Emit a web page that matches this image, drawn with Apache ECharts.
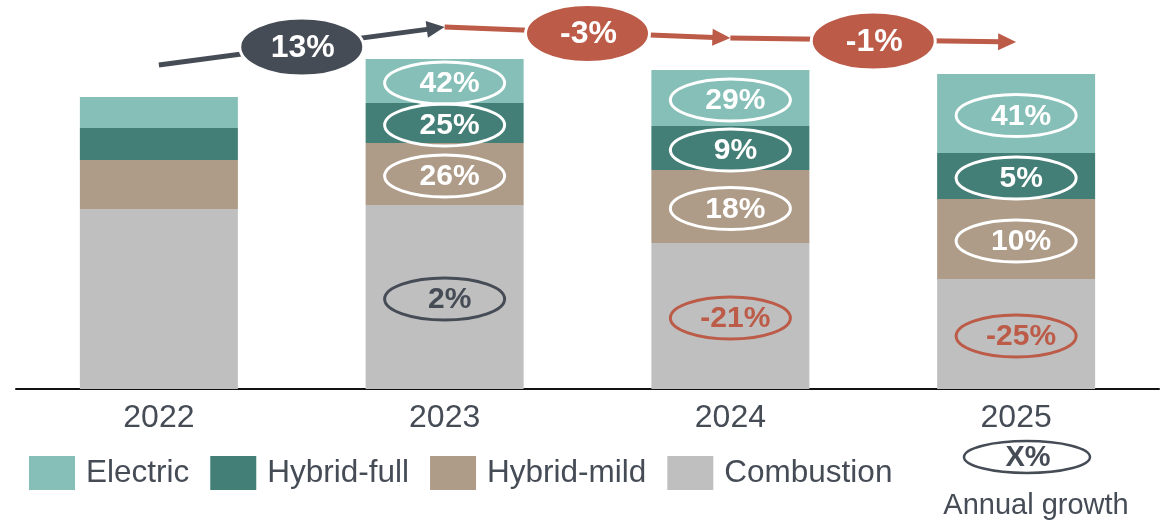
<!DOCTYPE html>
<html>
<head>
<meta charset="utf-8">
<script src="https://cdn.jsdelivr.net/npm/echarts@6/dist/echarts.min.js"></script>
<style>
  html, body { margin: 0; padding: 0; background: #fff; }
  #chart { width: 1170px; height: 524px; }
</style>
</head>
<body>
<div id="chart"></div>
<script>
// data (bar heights in arbitrary units)
const years = ['2022', '2023', '2024', '2025'];
const combustion = [180, 184, 146, 110];
const hybridMild = [49, 62, 73, 80];
const hybridFull = [32, 40, 44, 46];
const electric = [31, 44, 56, 79];

// annual growth labels per segment (first year has none)
const combustionGrowth = ['', '2%', '-21%', '-25%'];
const hybridMildGrowth = ['', '26%', '18%', '10%'];
const hybridFullGrowth = ['', '25%', '9%', '5%'];
const electricGrowth = ['', '42%', '29%', '41%'];
const totalGrowth = ['13%', '-3%', '-1%'];

const FONT = '"Liberation Sans", Arial, sans-serif';
const DARK = '#464c56';
const RED = '#bc5b48';
const TXT = '#454c56';

// segments bottom -> top
const stack = [
  { name: 'Combustion', values: combustion, growth: combustionGrowth, color: '#bfbfbf', coloured: true },
  { name: 'Hybrid-mild', values: hybridMild, growth: hybridMildGrowth, color: '#ae9c89' },
  { name: 'Hybrid-full', values: hybridFull, growth: hybridFullGrowth, color: '#437f77' },
  { name: 'Electric', values: electric, growth: electricGrowth, color: '#85bfb7' }
];

// badge items: [yearIndex, segment bottom, segment top]
const badgeData = [];
const badgeInfo = [];
const totals = years.map(() => 0);
stack.forEach(s => {
  s.values.forEach((v, i) => {
    const lo = totals[i];
    totals[i] += v;
    if (s.growth[i]) {
      badgeData.push([i, lo, lo + v]);
      const neg = s.growth[i].startsWith('-');
      badgeInfo.push({ label: s.growth[i], color: s.coloured ? (neg ? RED : DARK) : '#ffffff' });
    }
  });
});

// trend arrows between totals: [fromIndex, fromTotal, toTotal]
const trendData = totalGrowth.map((g, i) => [i, totals[i], totals[i + 1]]);

const chart = echarts.init(document.getElementById('chart'));

const barSeries = stack.map(s => ({
  name: s.name,
  type: 'bar',
  stack: 'total',
  barWidth: 158,
  itemStyle: { color: s.color },
  data: s.values,
  silent: true
}));

chart.setOption({
  animation: false,
  textStyle: { fontFamily: FONT },
  grid: { left: 16, right: 11, top: 0, bottom: 135 },
  legend: {
    data: ['Electric', 'Hybrid-full', 'Hybrid-mild', 'Combustion'],
    left: 29,
    top: 456,
    padding: 0,
    icon: 'rect',
    itemWidth: 46,
    itemHeight: 34,
    itemGap: 21,
    selectedMode: false,
    textStyle: { fontSize: 31.5, color: TXT, fontFamily: FONT, padding: [0, 0, 0, 6] }
  },
  xAxis: {
    type: 'category',
    data: years,
    axisLine: { lineStyle: { color: '#111', width: 2 } },
    axisTick: { show: false },
    axisLabel: { fontSize: 32, color: TXT, margin: 13, fontFamily: FONT }
  },
  yAxis: { type: 'value', min: 0, max: 389, show: false, splitLine: { show: false } },
  series: barSeries.concat([
    {
      type: 'custom',
      name: 'badges',
      z: 5,
      silent: true,
      clip: false,
      data: badgeData,
      renderItem(params, api) {
        const c = api.coord([api.value(0), (api.value(1) + api.value(2)) / 2]);
        const info = badgeInfo[params.dataIndex];
        return {
          type: 'group',
          children: [
            { type: 'ellipse', shape: { cx: c[0], cy: c[1] + 2, rx: 60, ry: 21 },
              style: { fill: 'none', stroke: info.color, lineWidth: 3 } },
            { type: 'text', style: { text: info.label, x: c[0] + 5, y: c[1] + 3, align: 'center', verticalAlign: 'middle',
              font: 'bold 30px ' + FONT, fill: info.color } }
          ]
        };
      }
    },
    {
      type: 'custom',
      name: 'trend',
      z: 6,
      silent: true,
      clip: false,
      data: trendData,
      renderItem(params, api) {
        const i = api.value(0);
        const off = 32;
        const p0 = api.coord([i, api.value(1)]);
        const p1 = api.coord([i + 1, api.value(2)]);
        p0[1] -= off; p1[1] -= off;
        const label = totalGrowth[params.dataIndex];
        const col = label.startsWith('-') ? RED : DARK;
        const dx = p1[0] - p0[0], dy = p1[1] - p0[1];
        const len = Math.sqrt(dx * dx + dy * dy);
        const ux = dx / len, uy = dy / len;
        const headL = 18, headW = 8.5;
        const bx = p1[0] - ux * headL, by = p1[1] - uy * headL;
        const mx = (p0[0] + p1[0]) / 2, my = (p0[1] + p1[1]) / 2;
        return {
          type: 'group',
          children: [
            { type: 'line', shape: { x1: p0[0], y1: p0[1], x2: bx + ux * 2, y2: by + uy * 2 },
              style: { stroke: col, lineWidth: 5 } },
            { type: 'polygon', shape: { points: [[p1[0], p1[1]], [bx - uy * headW, by + ux * headW], [bx + uy * headW, by - ux * headW]] },
              style: { fill: col } },
            { type: 'ellipse', shape: { cx: mx, cy: my + 1, rx: 62, ry: 29 },
              style: { fill: col, stroke: '#fff', lineWidth: 3 } },
            { type: 'text', style: { text: label, x: mx + 1, y: my + 2, align: 'center', verticalAlign: 'middle',
              font: 'bold 32px ' + FONT, fill: '#fff' } }
          ]
        };
      }
    }
  ]),
  graphic: [
    { type: 'ellipse', shape: { cx: 1027, cy: 457, rx: 63, ry: 16 }, style: { fill: 'none', stroke: DARK, lineWidth: 2.5 } },
    { type: 'text', style: { text: 'X%', x: 1028, y: 458, align: 'center', verticalAlign: 'middle', font: 'bold 29px ' + FONT, fill: DARK } },
    { type: 'text', style: { text: 'Annual growth', x: 1036, y: 506, align: 'center', verticalAlign: 'middle', font: '29px ' + FONT, fill: TXT } }
  ]
});
</script>
</body>
</html>
